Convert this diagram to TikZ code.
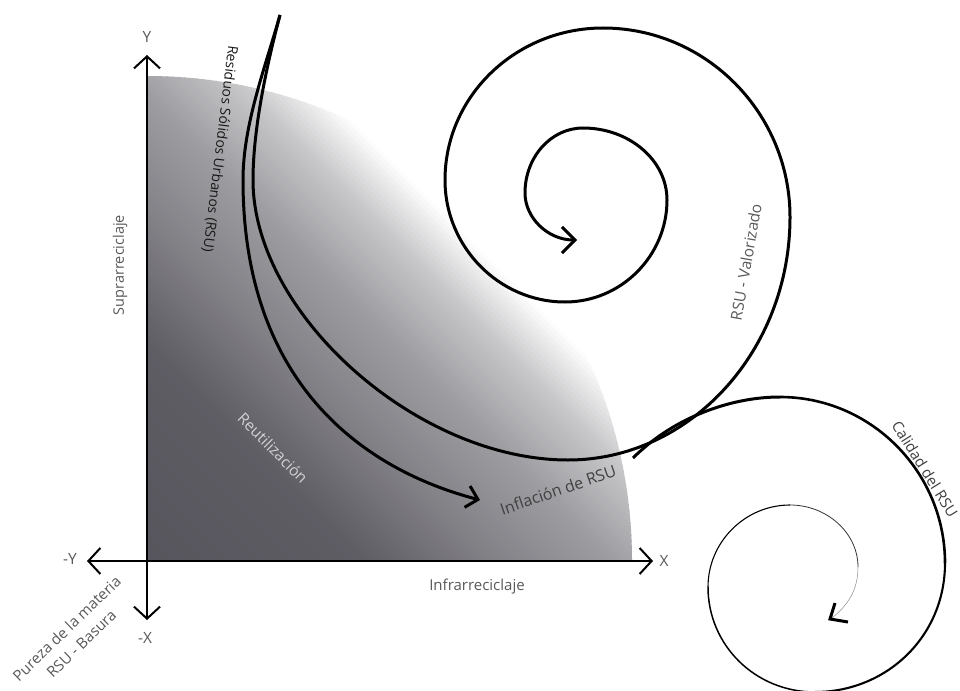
\documentclass[tikz,border=0pt]{standalone}
\usepackage{fontspec}
\setmainfont{Open Sans}
\usetikzlibrary{arrows.meta}
\begin{document}
\begin{tikzpicture}[x=1pt,y=-1pt,
  axis/.style={line width=2pt, -{Straight Barb[length=12pt,width=26pt]}},
  flow/.style={line width=3pt},
  lbl/.style={font=\fontsize{15.5}{21}\selectfont, text=black!65, inner sep=0pt},
]
\useasboundingbox (0,0) rectangle (960,690);

% ---- gradient quarter disc
\begin{scope}
  \clip (147,561) -- (147,76) arc[start angle=90,end angle=0,radius=485pt] -- cycle;
  \begin{scope}[shift={(147,561)}, rotate=45]
    \foreach \p in {0,4,...,500}{
      \pgfmathsetmacro{\g}{0.34+0.03*min(1,max(0,\p/150))+0.15*min(1,max(0,(\p-150)/100))+0.10*min(1,max(0,(\p-250)/80))+0.16*min(1,max(0,(\p-330)/70))+0.22*min(1,max(0,(\p-400)/55))}
      \pgfmathsetmacro{\gb}{min(1,\g+0.035*(1-\g))}
      \pgfmathsetmacro{\gg}{\g-0.01*(1-\g)}
      \definecolor{stripc}{rgb}{\g,\gg,\gb}
      \fill[stripc] (\p,-600) rectangle ({\p+5},600);
    }
  \end{scope}
\end{scope}

% ---- axes
\coordinate (O) at (147,561);
\coordinate (Ytip) at (147,55);
\coordinate (Xtip) at (653,561);
\coordinate (mYtip) at (87,561);
\coordinate (mXtip) at (147,620);
\draw[axis] (O) -- (Ytip);
\draw[axis] (O) -- (Xtip);
\draw[axis] (O) -- (mYtip);
\draw[axis] (O) -- (mXtip);

% ---- big spiral (RSU - Valorizado)
\coordinate (S) at (280,15);
\coordinate (spEnd) at (577,240);
\coordinate (inEnd) at (480,500);
\draw[flow, -{Straight Barb[length=13pt,width=26pt]}] (S)
  .. controls (266,68) and (253,130) .. (253,180)
  .. controls (253,314) and (417,460) .. (568,460)
  .. controls (690,460) and (790,351) .. (790,217)
  .. controls (790,113) and (706,28) .. (603,28)
  .. controls (516,28) and (445,96) .. (445,180)
  .. controls (445,247) and (499,302) .. (565,302)
  .. controls (621,302) and (667,256) .. (667,200)
  .. controls (667,160) and (629,128) .. (583,128)
  .. controls (551,128) and (525,157) .. (525,193)
  .. controls (525,218) and (548,240) .. (spEnd);

% ---- Inflacion arrow
\draw[flow, -{Straight Barb[length=11pt,width=22pt]}] (S)
  .. controls (265,68) and (243,125) .. (243,180)
  .. controls (243,385) and (365,470) .. (inEnd);

% ---- second spiral (Calidad del RSU), tapering
\coordinate (c0) at (633,458);
\coordinate (c1) at (780,397);
\coordinate (c2) at (945,563);
\coordinate (c3) at (815,692);
\coordinate (c4) at (708,587);
\coordinate (c5) at (790,505);
\coordinate (c6) at (858,567);
\coordinate (c7) at (832,618);
\draw[line width=3pt] (c0) .. controls (673,418) and (730,397) .. (c1);
\draw[line width=2.6pt] (c1) .. controls (871,397) and (945,472) .. (c2);
\draw[line width=2.1pt] (c2) .. controls (945,637) and (886,692) .. (c3);
\draw[line width=1.5pt] (c3) .. controls (755,692) and (708,645) .. (c4);
\draw[line width=1.1pt] (c4) .. controls (708,542) and (745,505) .. (c5);
\draw[line width=0.8pt, black!80] (c5) .. controls (827,505) and (858,533) .. (c6);
\draw[line width=0.5pt, black!45] (c6) .. controls (858,590) and (848,605) .. (c7);
\coordinate (h1) at (835,603);
\coordinate (h2) at (830,619);
\coordinate (h3) at (848,622);
\draw[line width=3pt] (h1) -- (h2) -- (h3);

% ---- labels
\node[lbl] (ylab) at (147,37) {Y};
\node[lbl] (xlab) at (664,561) {X};
\node[lbl] (mylab) at (70,559) {-Y};
\node[lbl] (mxlab) at (145,638) {-X};
\node[lbl, font=\fontsize{14.5}{18}\selectfont, rotate=90] (supra) at (120,265) {Suprarreciclaje};
\node[lbl, font=\fontsize{15}{18}\selectfont] (infra) at (477,587) {Infrarreciclaje};
\node[lbl, text=black!90, font=\fontsize{14}{16}\selectfont, rotate=-97] (rsu) at (220,149) {Residuos Sólidos Urbanos (RSU)};
\node[lbl, text=black!18, rotate=-45] (reut) at (273,448) {Reutilización};
\node[lbl, text=black!75, font=\fontsize{16}{18}\selectfont, rotate=19] (infl) at (558,490) {Inflación de RSU};
\node[lbl, rotate=80] (valor) at (746,262) {RSU - Valorizado};
\node[lbl, text=black!75, font=\fontsize{15}{18}\selectfont, rotate=-58] (cal) at (925,469) {Calidad del RSU};
\node[lbl, align=center, font=\fontsize{15}{21}\selectfont, rotate=44] (pur) at (74,636) {Pureza de la materia\\RSU - Basura};
\end{tikzpicture}
\end{document}
